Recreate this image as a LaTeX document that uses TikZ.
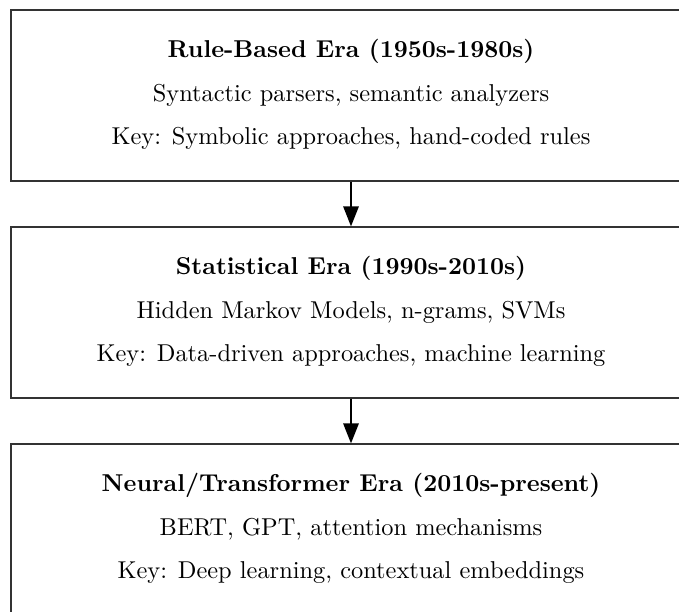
\documentclass[tikz,border=0pt]{standalone}
\usetikzlibrary{arrows.meta}
\newlength\pxu
\setlength\pxu{0.41pt}
\begin{document}
\begin{tikzpicture}[x=0.41pt,y=-0.41pt,
  erabox/.style={draw=black!80, line width=0.45pt, minimum width=680\pxu, minimum height=171\pxu, inner sep=0pt},
  txt/.style={anchor=base, inner sep=0pt},
  flow/.style={line width=1.05pt, -{Triangle[length=8.2pt,width=6.2pt]}}]
\useasboundingbox (0,0) rectangle (679,612);
\node[erabox] (b1) at (351,95.5) {};
\node[erabox] (b2) at (351,312.5) {};
\node[erabox] (b3) at (351,529.5) {};
\node[txt] (t1) at (351,58) {\bfseries Rule-Based Era (1950s-1980s)};
\node[txt] (s1) at (351,102) {Syntactic parsers, semantic analyzers};
\node[txt] (k1) at (351,145) {Key: Symbolic approaches, hand-coded rules};
\node[txt] (t2) at (351,275) {\bfseries Statistical Era (1990s-2010s)};
\node[txt] (s2) at (351,319) {Hidden Markov Models, n-grams, SVMs};
\node[txt] (k2) at (351,362) {Key: Data-driven approaches, machine learning};
\node[txt] (t3) at (351,492) {\bfseries Neural/Transformer Era (2010s-present)};
\node[txt] (s3) at (351,536) {BERT, GPT, attention mechanisms};
\node[txt] (k3) at (351,579) {Key: Deep learning, contextual embeddings};
\draw[flow] (b1.south) -- (b2.north);
\draw[flow] (b2.south) -- (b3.north);
\end{tikzpicture}
\end{document}
